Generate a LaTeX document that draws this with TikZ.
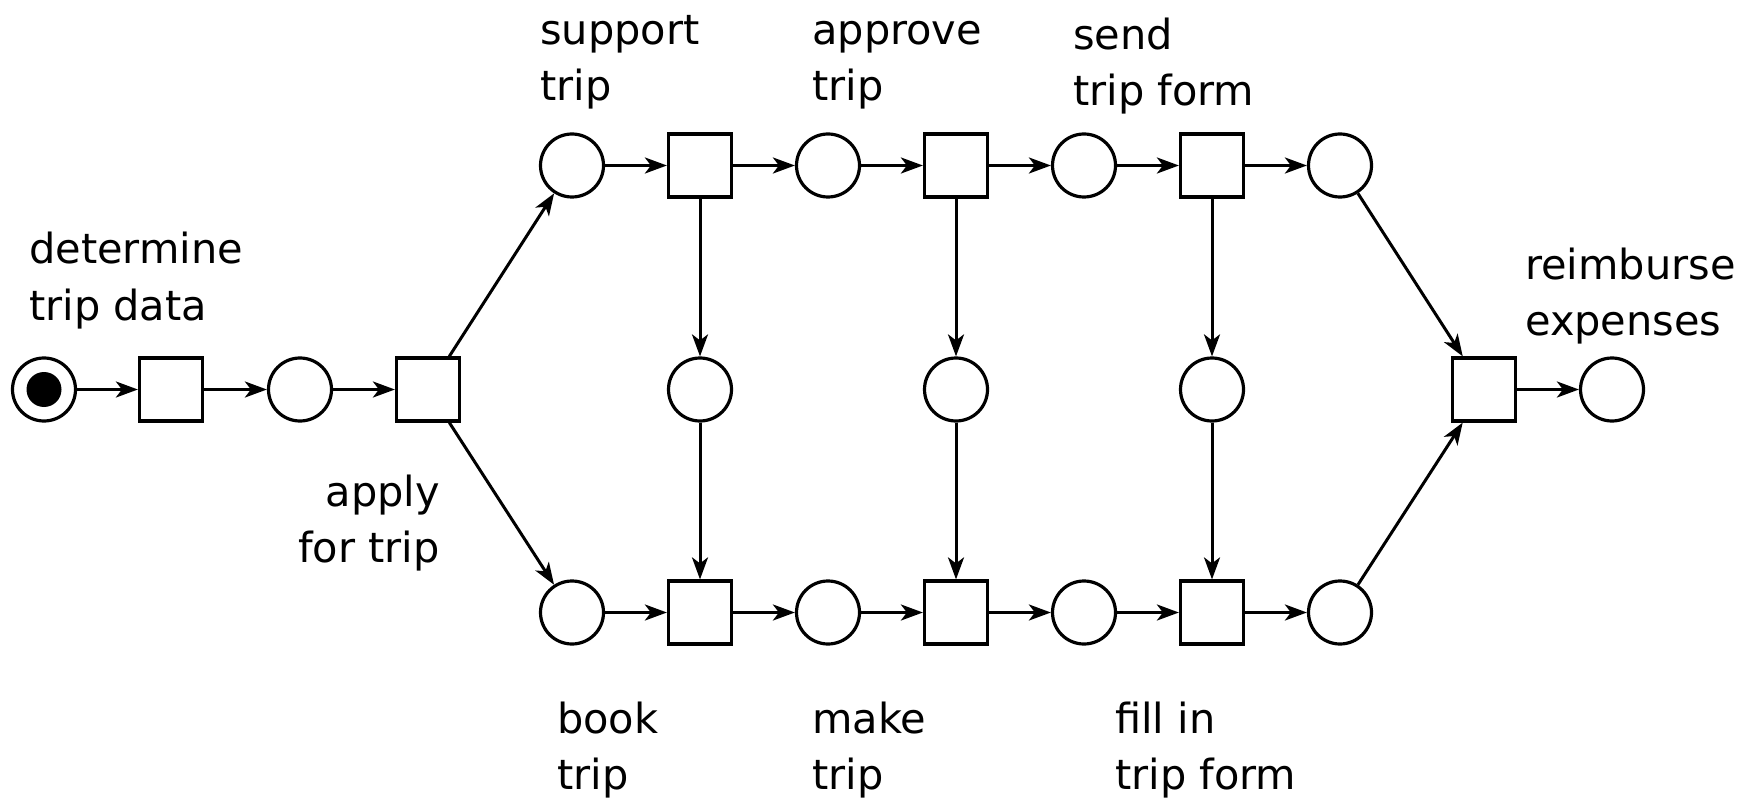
\documentclass[tikz,border=0pt]{standalone}
\usepackage{fontspec}
\setmainfont{DejaVu Sans}
\usetikzlibrary{arrows.meta}
\begin{document}
\begin{tikzpicture}[x=1pt,y=-1pt,
  place/.style={circle, draw, line width=3.2pt, minimum size=63pt, inner sep=0pt},
  trans/.style={rectangle, draw, line width=3.2pt, minimum size=63pt, inner sep=0pt},
  arc/.style={line width=3pt, -{Stealth[length=22pt,width=16pt,inset=6pt]}},
  lbl/.style={inner sep=0pt, align=left, anchor=base west, font=\fontsize{41.5}{56}\selectfont},
  lblr/.style={inner sep=0pt, align=right, anchor=base east, font=\fontsize{41.5}{56}\selectfont}]
\useasboundingbox (0,0) rectangle (1752,799);
% top/mid/bottom rows
\def\yT{165.5}\def\yM{389.5}\def\yB{612.5}
\node[place] (s)  at (44,\yM) {};
\fill (s.center) circle (17.5pt);
\node[trans] (t1) at (171,\yM) {};
\node[place] (p2) at (300,\yM) {};
\node[trans] (t2) at (428,\yM) {};
% upper branch
\node[place] (pu1) at (572,\yT) {};
\node[trans] (tu1) at (700,\yT) {};
\node[place] (pu2) at (828,\yT) {};
\node[trans] (tu2) at (956,\yT) {};
\node[place] (pu3) at (1084,\yT) {};
\node[trans] (tu3) at (1212,\yT) {};
\node[place] (pu4) at (1340,\yT) {};
% middle places
\node[place] (pm1) at (700,\yM) {};
\node[place] (pm2) at (956,\yM) {};
\node[place] (pm3) at (1212,\yM) {};
% lower branch
\node[place] (pl1) at (572,\yB) {};
\node[trans] (tl1) at (700,\yB) {};
\node[place] (pl2) at (828,\yB) {};
\node[trans] (tl2) at (956,\yB) {};
\node[place] (pl3) at (1084,\yB) {};
\node[trans] (tl3) at (1212,\yB) {};
\node[place] (pl4) at (1340,\yB) {};
% end
\node[trans] (tf) at (1484,\yM) {};
\node[place] (pf) at (1612,\yM) {};
% arcs
\draw[arc] (s) -- (t1);
\draw[arc] (t1) -- (p2);
\draw[arc] (p2) -- (t2);
\draw[arc] (t2) -- (pu1);
\draw[arc] (t2) -- (pl1);
\draw[arc] (pu1) -- (tu1);
\draw[arc] (tu1) -- (pu2);
\draw[arc] (pu2) -- (tu2);
\draw[arc] (tu2) -- (pu3);
\draw[arc] (pu3) -- (tu3);
\draw[arc] (tu3) -- (pu4);
\draw[arc] (pl1) -- (tl1);
\draw[arc] (tl1) -- (pl2);
\draw[arc] (pl2) -- (tl2);
\draw[arc] (tl2) -- (pl3);
\draw[arc] (pl3) -- (tl3);
\draw[arc] (tl3) -- (pl4);
\draw[arc] (tu1) -- (pm1);
\draw[arc] (pm1) -- (tl1);
\draw[arc] (tu2) -- (pm2);
\draw[arc] (pm2) -- (tl2);
\draw[arc] (tu3) -- (pm3);
\draw[arc] (pm3) -- (tl3);
\draw[arc] (pu4) -- (tf);
\draw[arc] (pl4) -- (tf);
\draw[arc] (tf) -- (pf);
% labels (anchor = baseline of last line)
\node[lbl] (l1) at (29,320) {determine\\trip data};
\node[lblr] (l2) at (440,562) {apply\\for trip};
\node[lbl] (l3) at (540,101) {support\\trip};
\node[lbl] (l4) at (812,101) {approve\\trip};
\node[lbl] (l5) at (1073,106) {send\\trip form};
\node[lbl] (l6) at (1525,335) {reimburse\\expenses};
\node[lbl] (l7) at (557,789) {book\\trip};
\node[lbl] (l8) at (812,789) {make\\trip};
\node[lbl] (l9) at (1115,789) {fill in\\trip form};
\end{tikzpicture}
\end{document}
